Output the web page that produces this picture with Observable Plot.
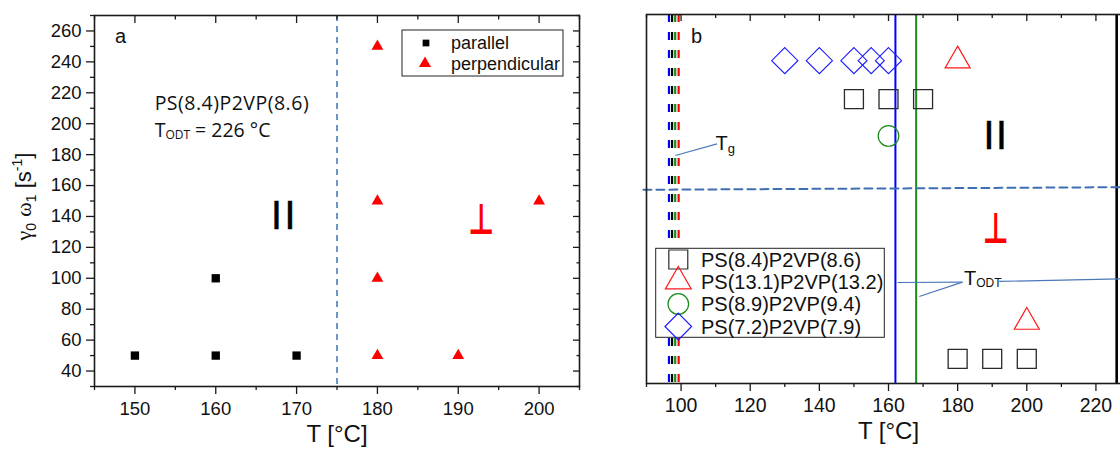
<!DOCTYPE html>
<html>
<head>
<meta charset="utf-8">
<script src="https://cdn.jsdelivr.net/npm/d3@7"></script>
<script src="https://cdn.jsdelivr.net/npm/@observablehq/plot@0.6"></script>
<style>
  html, body { margin: 0; padding: 0; background: #fff; overflow: hidden; }
  #wrap { position: relative; width: 1120px; height: 455px; overflow: hidden; background: #fff; }
  #pa, #pb { position: absolute; top: 0; }
  #pa { left: 0; width: 600px; }
  #pb { left: 600px; width: 540px; }
</style>
</head>
<body>
<div id="wrap"><div id="pa"></div><div id="pb"></div></div>
<script>
// ---------------- Panel a: PS(8.4)P2VP(8.6), T_ODT = 226 °C ----------------
const parallelT = [150, 160, 170, 160];
const parallelRate = [50, 50, 50, 100];
const perpT = [180, 180, 180, 180, 190, 200];
const perpRate = [250, 150, 100, 50, 50, 150];
const guideT_a = [175];
const xTicksA = [150, 160, 170, 180, 190, 200];
const xMinorA = [145, 155, 165, 175, 185, 195, 205];
const yTicks = [40, 60, 80, 100, 120, 140, 160, 180, 200, 220, 240, 260];
const yMinor = [30, 50, 70, 90, 110, 130, 150, 170, 190, 210, 230, 250, 270];
const signParallelA = [168.4, 140];
const signPerpA = [192.9, 128.3];

// ---------------- Panel b: four block copolymers ----------------
const seriesNames = ["PS(8.4)P2VP(8.6)", "PS(13.1)P2VP(13.2)", "PS(8.9)P2VP(9.4)", "PS(7.2)P2VP(7.9)"];
const seriesColors = ["#2a2a2a", "#ff1a1a", "#1a8a1a", "#1a1aff"];
const s1T = [150, 160, 170, 180, 190, 200];
const s1Y = [215, 215, 215, 46, 46, 46];
const s2T = [180, 200];
const s2Y = [240, 70];
const s3T = [160];
const s3Y = [191];
const s4T = [130, 140, 150, 155, 160];
const s4Y = [240, 240, 240, 240, 240];
const tgT = [96.5, 97.4, 98.3, 99.3];
const tgColors = ["#0000ff", "#000000", "#1a8a1a", "#ff0000"];
const odtT = [162, 168, 226];
const odtColors = ["#0000ff", "#1a8a1a", "#000000"];
const odtWidths = [2, 2, 2.6];
const boundaryT = [89.1, 230];
const boundaryY = [156, 157.7];
const xTicksB = [100, 120, 140, 160, 180, 200, 220];
const xMinorB = [90, 110, 130, 150, 170, 190, 210, 230];
const signParallelB = [191, 191];
const signPerpB = [191.2, 121];
const tgLeader = [[98.35, 178.3], [110.4, 185.9]];
const odtLeaders = [
  [[162.6, 95.7], [181.4, 95.9]],
  [[168.9, 86.6], [181.4, 95.9]],
  [[192.0, 96.4], [230, 98.2]]
];

const FONT = "'Liberation Sans', Arial, Helvetica, sans-serif";
const AX = "#1a1a1a";

// ---------- Panel a ----------
const rowsPar = parallelT.map((t, i) => ({t, v: parallelRate[i]}));
const rowsPerp = perpT.map((t, i) => ({t, v: perpRate[i]}));

const pa = Plot.plot({
  width: 600, height: 455,
  marginLeft: 94, marginRight: 21, marginTop: 15, marginBottom: 69,
  x: {domain: [145, 205]},
  y: {domain: [30, 270]},
  style: {fontFamily: FONT, fontSize: "18.5px", color: "#111", background: "transparent", overflow: "visible"},
  marks: [
    Plot.ruleX(guideT_a, {x: d => d, stroke: "#4a7cc0", strokeWidth: 1.6, strokeDasharray: "6,5"}),
    Plot.axisY({ticks: yTicks, tickSize: 8, tickPadding: 5, label: null, stroke: AX, strokeWidth: 1.3, fill: "#111"}),
    Plot.axisY({ticks: yMinor, tickSize: 4, label: null, stroke: AX, strokeWidth: 1.3, fill: "none"}),
    Plot.axisY({anchor: "right", ticks: yTicks, tickSize: -7, label: null, stroke: AX, strokeWidth: 1.3, fill: "none"}),
    Plot.axisY({anchor: "right", ticks: yMinor, tickSize: -3.5, label: null, stroke: AX, strokeWidth: 1.3, fill: "none"}),
    Plot.axisX({ticks: xTicksA, tickSize: 8, tickPadding: 7, label: null, stroke: AX, strokeWidth: 1.3, fill: "#111"}),
    Plot.axisX({ticks: xMinorA, tickSize: 4, label: null, stroke: AX, strokeWidth: 1.3, fill: "none"}),
    Plot.axisX({anchor: "top", ticks: xTicksA, tickSize: -7, label: null, stroke: AX, strokeWidth: 1.3, fill: "none"}),
    Plot.axisX({anchor: "top", ticks: xMinorA, tickSize: -3.5, label: null, stroke: AX, strokeWidth: 1.3, fill: "none"}),
    Plot.frame({stroke: AX, strokeWidth: 1.6}),
    Plot.dot(rowsPar, {x: "t", y: "v", symbol: "square", r: 4.7, fill: "#000", stroke: "none"}),
    Plot.dot(rowsPerp, {x: "t", y: "v", symbol: "triangle", r: 4.4, fill: "#ff0000", stroke: "none"}),
    Plot.text(["T [°C]"], {frameAnchor: "bottom", dy: 55, fontSize: 24, fill: "#111"})
  ]
});
document.getElementById("pa").appendChild(pa);

// ---------- Panel b ----------
const rowsS1 = s1T.map((t, i) => ({t, v: s1Y[i]}));
const rowsS2 = s2T.map((t, i) => ({t, v: s2Y[i]}));
const rowsS3 = s3T.map((t, i) => ({t, v: s3Y[i]}));
const rowsS4 = s4T.map((t, i) => ({t, v: s4Y[i]}));
const rowsTg = tgT.map((t, i) => ({t, c: tgColors[i]}));
const rowsOdt = odtT.map((t, i) => ({t, c: odtColors[i], w: odtWidths[i]}));
const rowsBoundary = boundaryT.map((t, i) => ({t, v: boundaryY[i]}));
const leaderRows = [tgLeader, ...odtLeaders].map(([a, b]) => ({x1: a[0], y1: a[1], x2: b[0], y2: b[1]}));

const pb = Plot.plot({
  width: 540, height: 455,
  marginLeft: 46, marginRight: 10, marginTop: 14, marginBottom: 72,
  x: {domain: [90, 230]},
  y: {domain: [30, 270], axis: null},
  color: {type: "identity"},
  style: {fontFamily: FONT, fontSize: "19.5px", color: "#111", background: "transparent", overflow: "visible"},
  marks: [
    Plot.ruleX(rowsTg, {x: "t", stroke: "c", strokeWidth: 2.2, strokeDasharray: "8,10"}),
    ...rowsOdt.map(d => Plot.ruleX([d], {x: "t", stroke: "c", strokeWidth: d.w})),
    Plot.line(rowsBoundary, {x: "t", y: "v", stroke: "#3f6fb3", strokeWidth: 2, strokeDasharray: "8,5"}),
    Plot.link(leaderRows, {x1: "x1", y1: "y1", x2: "x2", y2: "y2", stroke: "#4a78b8", strokeWidth: 1.2}),
    Plot.axisX({ticks: xTicksB, tickSize: 8, tickPadding: 7, label: null, stroke: AX, strokeWidth: 1.3, fill: "#111"}),
    Plot.axisX({ticks: xMinorB, tickSize: 4, label: null, stroke: AX, strokeWidth: 1.3, fill: "none"}),
    Plot.axisX({anchor: "top", ticks: xTicksB, tickSize: -6, label: null, stroke: AX, strokeWidth: 1.3, fill: "none"}),
    Plot.axisX({anchor: "top", ticks: xMinorB, tickSize: -3, label: null, stroke: AX, strokeWidth: 1.3, fill: "none"}),
    Plot.frame({stroke: AX, strokeWidth: 1.6}),
    Plot.dot(rowsS1, {x: "t", y: "v", symbol: "square", r: 10.7, fill: "none", stroke: seriesColors[0], strokeWidth: 1.3}),
    Plot.dot(rowsS2, {x: "t", y: "v", symbol: "triangle", r: 9.3, fill: "none", stroke: seriesColors[1], strokeWidth: 1.2}),
    Plot.dot(rowsS3, {x: "t", y: "v", symbol: "circle", r: 10.3, fill: "none", stroke: seriesColors[2], strokeWidth: 1.2}),
    Plot.dot(rowsS4, {x: "t", y: "v", symbol: "diamond2", r: 11.8, fill: "none", stroke: seriesColors[3], strokeWidth: 1.1}),
    Plot.text(["T [°C]"], {frameAnchor: "bottom", dy: 55, fontSize: 24, fill: "#111"})
  ]
});
document.getElementById("pb").appendChild(pb);

// ---------- rich text helper (sub/superscripts) ----------
function rich(svg, x, y, parts, opts = {}) {
  const t = d3.select(svg).append("text")
    .attr("x", x).attr("y", y)
    .attr("font-family", opts.family || FONT)
    .attr("font-size", opts.size || 18)
    .attr("fill", opts.fill || "#111")
    .attr("text-anchor", opts.anchor || "start");
  if (opts.weight) t.attr("font-weight", opts.weight);
  if (opts.spacing) t.attr("letter-spacing", opts.spacing);
  if (opts.stroke) t.attr("stroke", opts.stroke).attr("stroke-width", opts.strokeWidth || 1);
  if (opts.transform) t.attr("transform", opts.transform).attr("x", 0).attr("y", 0);
  let shift = 0;
  for (const p of parts) {
    const [str, o = {}] = Array.isArray(p) ? p : [p];
    const ts = t.append("tspan").text(str);
    if (o.size) ts.attr("font-size", o.size);
    if (o.family) ts.attr("font-family", o.family);
    const want = o.shift || 0;
    if (want !== shift) { ts.attr("dy", want - shift); shift = want; }
  }
  return t;
}

const sxA = v => pa.scale("x").apply(v), syA = v => pa.scale("y").apply(v);
const sxB = v => pb.scale("x").apply(v), syB = v => pb.scale("y").apply(v);

// parallel signs (||)
rich(pa, sxA(signParallelA[0]) + 2.5, syA(signParallelA[1]) + 7.5, ["||"], {size: 30, weight: "bold", fill: "#000", anchor: "middle", spacing: 5, stroke: "#000", strokeWidth: 0.35});
rich(pb, sxB(signParallelB[0]) + 2, syB(signParallelB[1]) + 7.5, ["||"], {size: 30, weight: "bold", fill: "#000", anchor: "middle", spacing: 4, stroke: "#000", strokeWidth: 0.35});

// perpendicular signs (⊥), slightly stretched vertically
rich(pa, 0, 0, ["⊥"], {family: "'DejaVu Sans', sans-serif", size: 34, weight: "bold", fill: "#ff0000", anchor: "middle",
  transform: `translate(${sxA(signPerpA[0])},${syA(signPerpA[1])}) scale(0.84,1.25)`});
rich(pb, 0, 0, ["⊥"], {family: "'DejaVu Sans', sans-serif", size: 34, weight: "bold", fill: "#ff0000", anchor: "middle",
  transform: `translate(${sxB(signPerpB[0])},${syB(signPerpB[1])}) scale(0.84,1.25)`});

// panel labels
rich(pa, 115, 43, ["a"], {size: 20});
rich(pb, 91, 43, ["b"], {size: 20});

// y axis title of panel a
rich(pa, 0, 0, [
  ["γ", {family: "'Liberation Serif', 'DejaVu Serif', serif"}],
  ["0", {size: 14, shift: 5}],
  [" ", {shift: 0}],
  ["ω", {family: "'Liberation Serif', 'DejaVu Serif', serif"}],
  ["1", {size: 14, shift: 5}],
  [" [s", {shift: 0}],
  ["-1", {size: 14, shift: -9}],
  ["]", {shift: 0}]
], {size: 22, anchor: "middle", transform: `translate(31,${(syA(30) + syA(270)) / 2 - 4}) rotate(-90)`});

// annotation of panel a
const CAL = "'Open Sans', 'Liberation Sans', sans-serif";
rich(pa, sxA(152.5), syA(208.4), ["PS(8.4)P2VP(8.6)"], {family: CAL, size: 19.5, spacing: 0.5});
rich(pa, sxA(152.5), syA(191.1), ["T", ["ODT", {size: 12, shift: 2}], [" = 226 °C", {shift: 0}]], {family: CAL, size: 19.5});

// legend of panel a
{
  const g = d3.select(pa).append("g");
  g.append("rect").attr("x", 402).attr("y", 30).attr("width", 161).attr("height", 46)
    .attr("fill", "#fff").attr("stroke", "#222").attr("stroke-width", 1);
  g.append("path").attr("transform", "translate(426,43)")
    .attr("d", d3.symbol(d3.symbolSquare, Math.PI * 3.8 * 3.8)()).attr("fill", "#000");
  g.append("path").attr("transform", "translate(425,63.5)")
    .attr("d", d3.symbol(d3.symbolTriangle, Math.PI * 4.5 * 4.5)()).attr("fill", "#ff0000");
  rich(pa, 451, 48.5, ["parallel"], {size: 18});
  rich(pa, 451, 70, ["perpendicular"], {size: 18});
}

// legend of panel b
{
  const g = d3.select(pb).append("g");
  g.append("rect").attr("x", 55.7).attr("y", 248.3).attr("width", 228.6).attr("height", 89)
    .attr("fill", "#fff").attr("stroke", "#222").attr("stroke-width", 1);
  const syms = [[d3.symbolSquare, 10.7], [d3.symbolTriangle, 9.6], [d3.symbolCircle, 10.3], [d3.symbolDiamond2, 12]];
  const rowY = [259.5, 281.5, 304, 326.5];
  seriesNames.forEach((name, i) => {
    g.append("path").attr("transform", `translate(78.3,${rowY[i]})`)
      .attr("d", d3.symbol(syms[i][0], Math.PI * syms[i][1] ** 2)())
      .attr("fill", "none").attr("stroke", seriesColors[i]).attr("stroke-width", 1.2);
    rich(pb, 101, rowY[i] + 7, [name], {size: 20});
  });
}

// Tg and T_ODT labels of panel b
rich(pb, sxB(110.1), syB(181.5), ["T", ["g", {size: 13, shift: 3}]], {size: 20});
rich(pb, sxB(182), syB(93.7), ["T", ["ODT", {size: 12, shift: 2}]], {size: 20});
</script>
</body>
</html>
